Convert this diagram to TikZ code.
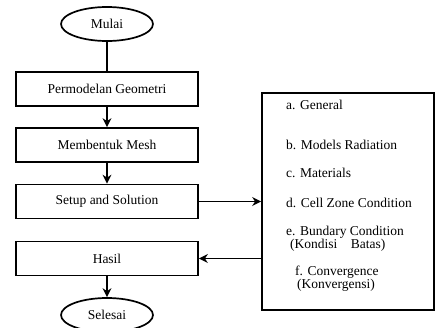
\documentclass[tikz,border=0pt]{standalone}
\usepackage{fontspec}
\setmainfont{Liberation Serif}
\newfontfamily\timesfont{Liberation Serif}
\usetikzlibrary{arrows.meta,positioning,shapes.geometric}
\newcommand{\flowfont}{\timesfont\fontsize{13.5pt}{13pt}\selectfont}
\tikzset{
  stepbox/.style={draw,line width=1.7pt,minimum width=182pt,minimum height=34pt,
    inner sep=0pt,font=\flowfont},
  termbox/.style={draw,ellipse,line width=1.7pt,minimum width=92pt,minimum height=34pt,
    inner sep=0pt,font=\flowfont},
  panel/.style={draw,line width=1.7pt,minimum width=172pt,minimum height=217pt,inner sep=0pt},
  item/.style={anchor=west,align=left,inner sep=0pt,font=\flowfont},
  arr/.style={-{Stealth[length=9pt,width=9pt]},line width=1.7pt},
  link/.style={line width=1.7pt},
}
\begin{document}
\begin{tikzpicture}[x=1pt,y=-1pt]
  \useasboundingbox (0,0) rectangle (435,327);
  \node[termbox] (mulai) at (107,24) {Mulai};
  \node[stepbox] (geom) at (107,89) {Permodelan Geometri};
  \node[stepbox] (mesh) at (107,145) {Membentuk Mesh};
  \node[stepbox] (setup) at (107,201.5) {Setup and Solution};
  \node[stepbox] (hasil) at (107,258.5) {Hasil};
  \node[termbox] (selesai) at (107,315) {Selesai};
  \node[panel] (setting) at (348,201.5) {};
  % isi setup
  \foreach \y/\name/\lab in {105/ia/{a. General},145/ib/{b. Models Radiation},
      173/ic/{c. Materials},203/id/{d. Cell Zone Condition},
      238.5/ie/{e. Bundary Condition\\\hspace*{4pt}(Kondisi\quad Batas)}}{
    \node[item] (\name) at (286,\y) {\lab};
  }
  \node[item] (if) at (295,278.5) {f. Convergence\\\hspace*{2pt}(Konvergensi)};
  \draw[link] (mulai) -- (geom);
  \draw[arr] (geom) -- (mesh);
  \draw[arr] (mesh) -- (setup);
  \draw[arr] (setup) -- (setup -| setting.west);
  \draw[arr] (setting.west |- hasil) -- (hasil);
  \draw[arr] (hasil) -- (selesai);
\end{tikzpicture}
\end{document}
